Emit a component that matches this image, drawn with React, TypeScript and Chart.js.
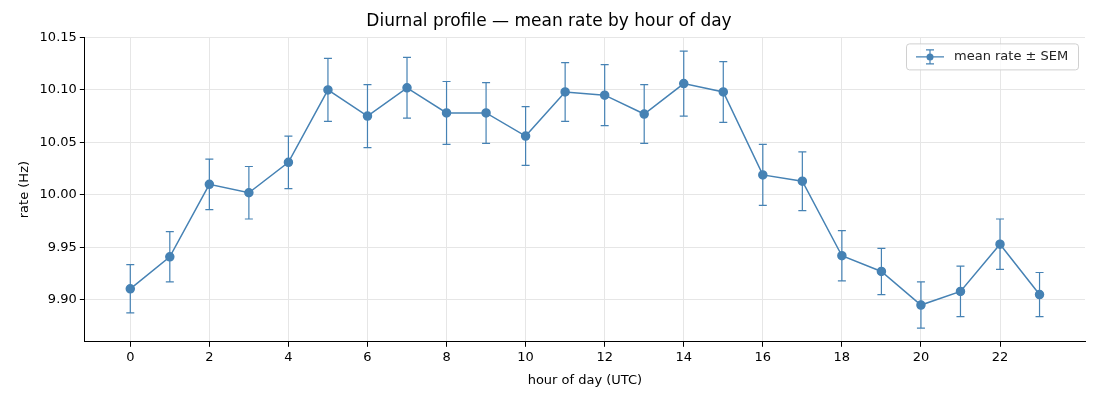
import React, { useEffect, useRef } from "react";
import { Chart, registerables } from "chart.js";
Chart.register(...registerables);

const hours = Array.from({ length: 24 }, (_, i) => i);
const meanRate = [9.9105, 9.941, 10.010, 10.002, 10.031, 10.100, 10.075, 10.102, 10.078, 10.078, 10.056, 10.098, 10.095, 10.077, 10.106, 10.098, 10.019, 10.013, 9.942, 9.927, 9.895, 9.908, 9.953, 9.905];
const sem = [0.023, 0.024, 0.024, 0.025, 0.025, 0.030, 0.030, 0.029, 0.030, 0.029, 0.028, 0.028, 0.029, 0.028, 0.031, 0.029, 0.029, 0.028, 0.024, 0.022, 0.022, 0.024, 0.024, 0.021];
const yTicks = [9.9, 9.95, 10.0, 10.05, 10.1, 10.15];
const xTicks = [0, 2, 4, 6, 8, 10, 12, 14, 16, 18, 20, 22];
const COLOR = "#4682b4";
const FONT = "'DejaVu Sans', sans-serif";

const errPlugin = {
  id: "errbars",
  afterDatasetsDraw(chart: any) {
    const { ctx, scales } = chart;
    const x = scales.x, y = scales.y;
    ctx.save();
    ctx.strokeStyle = COLOR;
    ctx.lineWidth = 1.2;
    hours.forEach((h, i) => {
      const px = x.getPixelForValue(h);
      const t = y.getPixelForValue(meanRate[i] + sem[i]);
      const b = y.getPixelForValue(meanRate[i] - sem[i]);
      ctx.beginPath();
      ctx.moveTo(px, t); ctx.lineTo(px, b);
      ctx.moveTo(px - 4, t); ctx.lineTo(px + 4, t);
      ctx.moveTo(px - 4, b); ctx.lineTo(px + 4, b);
      ctx.stroke();
    });
    const ca = chart.chartArea;
    const w = 172, hgt = 26;
    const lx = ca.right - 7 - w, ly = ca.top + 6;
    ctx.fillStyle = "rgba(255,255,255,0.8)";
    ctx.strokeStyle = "#d0d0d0";
    ctx.lineWidth = 1;
    ctx.beginPath();
    ctx.roundRect(lx + 0.5, ly + 0.5, w, hgt, 3);
    ctx.fill(); ctx.stroke();
    const cy = ly + hgt / 2 + 0.5;
    ctx.strokeStyle = COLOR; ctx.lineWidth = 1.2;
    ctx.beginPath();
    ctx.moveTo(lx + 10, cy); ctx.lineTo(lx + 38, cy);
    ctx.moveTo(lx + 24, cy - 7); ctx.lineTo(lx + 24, cy + 7);
    ctx.moveTo(lx + 20, cy - 7); ctx.lineTo(lx + 28, cy - 7);
    ctx.moveTo(lx + 20, cy + 7); ctx.lineTo(lx + 28, cy + 7);
    ctx.stroke();
    ctx.fillStyle = COLOR;
    ctx.beginPath(); ctx.arc(lx + 24, cy, 3.5, 0, Math.PI * 2); ctx.fill();
    ctx.fillStyle = "#222";
    ctx.font = `13px ${FONT}`;
    ctx.textBaseline = "middle";
    ctx.fillText("mean rate ± SEM", lx + 48, cy);
    ctx.restore();
  },
};

export default function App() {
  const ref = useRef<HTMLCanvasElement>(null);
  useEffect(() => {
    document.body.style.margin = "0";
    const chart = new Chart(ref.current!, {
      type: "line",
      data: {
        datasets: [{
          label: "mean rate ± SEM",
          data: hours.map((h, i) => ({ x: h, y: meanRate[i] })),
          borderColor: COLOR,
          backgroundColor: COLOR,
          borderWidth: 1.5,
          pointRadius: 4,
          pointHoverRadius: 4,
          tension: 0,
        }],
      },
      options: {
        animation: false,
        responsive: false,
        layout: { padding: { top: 0, right: 15, left: 13, bottom: 8 } },
        plugins: {
          legend: { display: false },
          tooltip: { enabled: false },
          title: { display: true, text: "Diurnal profile — mean rate by hour of day", color: "#000", font: { family: FONT, size: 17, weight: "normal" }, padding: { top: 11, bottom: 6 } },
        },
        scales: {
          x: {
            type: "linear", min: -1.15, max: 24.15,
            afterBuildTicks: (s: any) => { s.ticks = xTicks.map(v => ({ value: v })); },
            ticks: { color: "#000", font: { family: FONT, size: 13 }, autoSkip: false, maxRotation: 0 },
            grid: { color: "#e6e6e6", tickLength: 5, tickColor: "#000" },
            border: { color: "#000" },
            title: { display: true, text: "hour of day (UTC)", color: "#000", font: { family: FONT, size: 13 }, padding: { top: 4 } },
          },
          y: {
            min: 9.86, max: 10.15,
            afterBuildTicks: (s: any) => { s.ticks = yTicks.map(v => ({ value: v })); },
            ticks: { color: "#000", font: { family: FONT, size: 13 }, callback: (v: any) => Number(v).toFixed(2) },
            grid: { color: "#e6e6e6", tickLength: 5, tickColor: "#000" },
            border: { color: "#000" },
            title: { display: true, text: "rate (Hz)", color: "#000", font: { family: FONT, size: 13 } },
          },
        },
      } as any,
      plugins: [errPlugin],
    });
    return () => chart.destroy();
  }, []);
  return <canvas ref={ref} width={1100} height={400} />;
}
